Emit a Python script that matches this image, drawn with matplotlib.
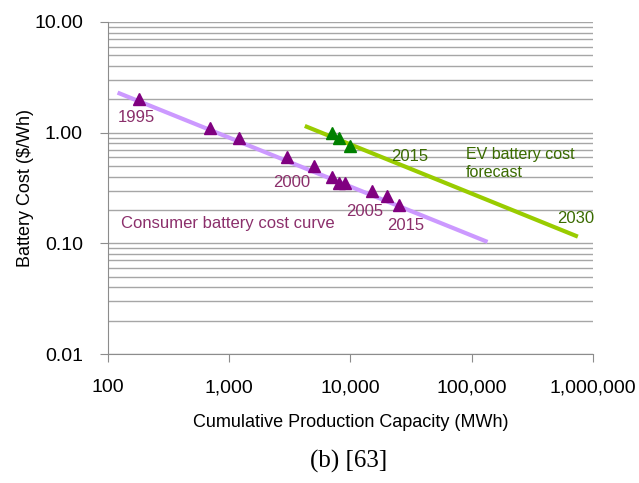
import matplotlib
matplotlib.use("Agg")
import matplotlib.pyplot as plt
from matplotlib.ticker import FixedLocator, NullLocator

# consumer battery cost curve (cumulative MWh, $/Wh)
cons_x = [180, 700, 1200, 3000, 5000, 7000, 8000, 9000, 15000, 20000, 25000]
cons_y = [2.0, 1.1, 0.9, 0.6, 0.5, 0.4, 0.35, 0.35, 0.3, 0.27, 0.22]
cons_fit_x = [120, 135000]
cons_fit_y = [2.3, 0.103]

# EV battery cost forecast
ev_x = [7000, 8000, 10000]
ev_y = [1.0, 0.9, 0.75]
ev_fit_x = [4200, 750000]
ev_fit_y = [1.15, 0.115]

xticks = [100, 1000, 10000, 100000, 1000000]
xtick_labels = ["100", "1,000", "10,000", "100,000", "1,000,000"]
yticks = [0.01, 0.1, 1, 10]
ytick_labels = ["0.01", "0.10", "1.00", "10.00"]

plt.rcParams['font.family'] = ['Liberation Sans', 'DejaVu Sans']

fig = plt.figure(figsize=(6.39, 4.83), dpi=100)
ax = fig.add_axes([0.169, 0.267, 0.759, 0.6875])

maroon = '#8B2F6B'
dgreen = '#3A6B00'

ax.plot(cons_fit_x, cons_fit_y, color='#CC99FF', lw=3, solid_capstyle='butt', zorder=3)
ax.plot(ev_fit_x, ev_fit_y, color='#99CC00', lw=3, solid_capstyle='butt', zorder=3)
ax.plot(cons_x, cons_y, ls='none', marker='^', ms=9, color='#800080', zorder=4)
ax.plot(ev_x, ev_y, ls='none', marker='^', ms=9, color='#008000', zorder=4)

ax.set_xscale('log')
ax.set_yscale('log')
ax.set_xlim(100, 1000000)
ax.set_ylim(0.01, 10)

ax.xaxis.set_major_locator(FixedLocator(xticks))
ax.xaxis.set_minor_locator(NullLocator())
ax.set_xticklabels(xtick_labels)
ax.yaxis.set_major_locator(FixedLocator(yticks))
ax.set_yticklabels(ytick_labels)
ax.yaxis.set_minor_locator(FixedLocator([m * d for d in [0.01, 0.1, 1] for m in range(2, 10)]))

ax.grid(True, which='both', axis='y', color='#A6A6A6', lw=1)
ax.set_axisbelow(True)
for s in ['top', 'right']:
    ax.spines[s].set_visible(False)
for s in ['left', 'bottom']:
    ax.spines[s].set_color('#8C8C8C')
ax.tick_params(axis='both', which='major', direction='out', length=6, color='#8C8C8C', labelsize=14)
ax.tick_params(axis='y', which='minor', length=0)
ax.tick_params(axis='y', pad=12)
ax.tick_params(axis='x', pad=12)

ax.set_xlabel('Cumulative Production Capacity (MWh)', fontsize=13, labelpad=13)
ax.set_ylabel('Battery Cost ($/Wh)', fontsize=13, labelpad=0)

ax.text(170, 1.36, '1995', color=maroon, fontsize=12, ha='center', va='center')
ax.text(3290, 0.358, '2000', color=maroon, fontsize=12, ha='center', va='center')
ax.text(13200, 0.196, '2005', color=maroon, fontsize=12, ha='center', va='center')
ax.text(28700, 0.1435, '2015', color=maroon, fontsize=12, ha='center', va='center')
ax.text(128, 0.1496, 'Consumer battery cost curve', color=maroon, fontsize=12, ha='left', va='center')
ax.text(30900, 0.603, '2015', color=dgreen, fontsize=12, ha='center', va='center')
ax.text(89800, 0.532, 'EV battery cost\nforecast', color=dgreen, fontsize=11.5, ha='left', va='center', linespacing=1.25)
ax.text(725000, 0.166, '2030', color=dgreen, fontsize=12, ha='center', va='center')

fig.text(0.546, 0.045, '(b) [63]', family='Liberation Serif', fontsize=18, ha='center', va='center')

fig.savefig('out.png', dpi=100)
